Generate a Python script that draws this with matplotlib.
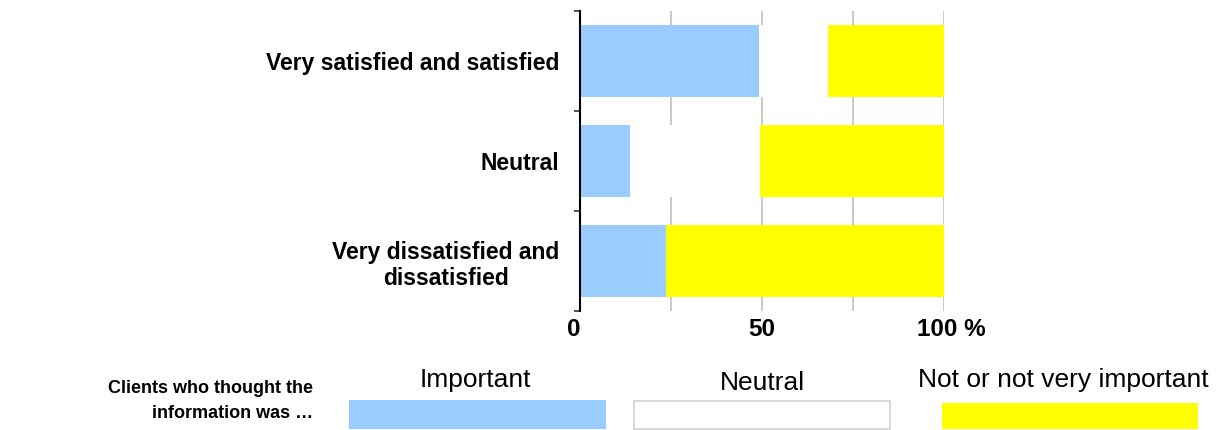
import numpy as np
import matplotlib.pyplot as plt
from matplotlib.patches import Rectangle
from matplotlib.transforms import ScaledTranslation

# satisfaction groups (top to bottom) and share of clients per answer, in %
categories = ['Very satisfied and satisfied', 'Neutral',
              'Very dissatisfied and\ndissatisfied']
important = [49.3, 13.7, 23.5]
neutral = [18.7, 35.7, 0.0]
not_important = [32.0, 50.6, 76.5]

series_names = ['Important', 'Neutral', 'Not or not very important']
legend_title = 'Clients who thought the\ninformation was \u2026'
xticks = [0, 50, 100]
xtick_labels = ['0', '50', '100 %']

blue = '#99ccff'
yellow = '#ffff00'
grid_grey = '#c0c0c0'

plt.rcParams['font.family'] = ['Liberation Sans', 'DejaVu Sans']

W, H = 1216, 430
fig = plt.figure(figsize=(W / 100, H / 100), dpi=100)
ax = fig.add_axes([580 / W, 1 - 311 / H, 364 / W, 300 / H])

y = np.arange(len(categories))
left = np.zeros(len(categories))
for vals, col in [(important, blue), (neutral, 'white'), (not_important, yellow)]:
    ax.barh(y, vals, left=left, height=0.72, color=col, linewidth=0, zorder=2)
    left += np.array(vals)

ax.set_xlim(0, 100)
ax.set_ylim(len(categories) - 0.5, -0.5)

# vertical gridlines behind the bars
for gx in [25, 50, 75, 100]:
    ax.axvline(gx, color=grid_grey, lw=1.2, zorder=1)

for side in ['top', 'right', 'bottom']:
    ax.spines[side].set_visible(False)
ax.spines['left'].set_linewidth(1.5)

# boundary ticks between groups, labels centred on the bars
ax.set_yticks(np.arange(-0.5, len(categories)), labels=[])
ax.tick_params(axis='y', which='major', direction='out', length=4.5, width=1.2, color='#333333')
ax.set_yticks(y, labels=categories, minor=True)
ax.tick_params(axis='y', which='minor', length=0, pad=15)
for lab in ax.get_yticklabels(minor=True):
    lab.set_fontweight('bold')
    lab.set_fontsize(16.5)
    lab.set_multialignment('center')
    lab.set_linespacing(1.2)

ax.set_xticks(xticks, labels=xtick_labels)
ax.tick_params(axis='x', length=0, pad=5, labelsize=17.5)
xl = ax.get_xticklabels()
for lab in xl:
    lab.set_fontweight('bold')
xl[0].set_horizontalalignment('right')
xl[-1].set_horizontalalignment('left')
xl[-1].set_transform(xl[-1].get_transform() + ScaledTranslation(-0.27, 0, fig.dpi_scale_trans))

# legend row under the chart
fig.text(313 / W, 1 - 401 / H, legend_title, ha='right', va='center',
         fontsize=13, fontweight='bold', linespacing=1.55)

boxes = [(349, 606, 400, 429, blue, 'none'),
         (634, 890, 401, 429, 'white', '#d9d9d9'),
         (942, 1198, 403, 429, yellow, 'none')]
label_pos = [(475, 387), (762, 390), (1063, 387)]
for (x0, x1, y0, y1, fc, ec), name, (lx, ly) in zip(boxes, series_names, label_pos):
    fig.patches.append(Rectangle((x0 / W, 1 - y1 / H), (x1 - x0) / W, (y1 - y0) / H,
                                 transform=fig.transFigure, facecolor=fc,
                                 edgecolor=ec, linewidth=1.5))
    fig.text(lx / W, 1 - ly / H, name, ha='center', va='baseline', fontsize=19)

fig.savefig('out.png', dpi=100)
